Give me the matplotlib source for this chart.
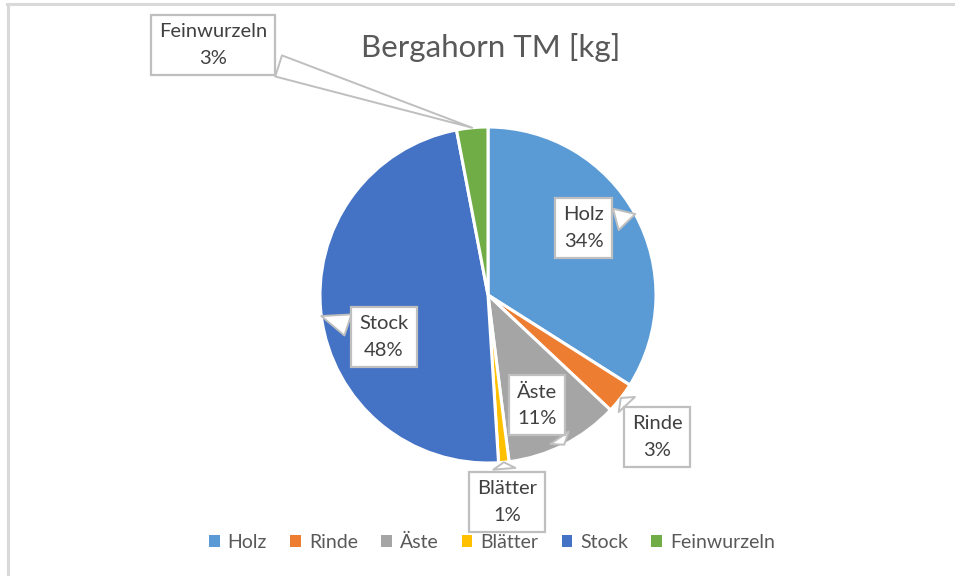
import numpy as np
import matplotlib
matplotlib.use("Agg")
import matplotlib.pyplot as plt
from matplotlib.patches import Patch
from matplotlib.lines import Line2D

# Daten
kategorien = ["Holz", "Rinde", "Äste", "Blätter", "Stock", "Feinwurzeln"]
anteile = [34, 3, 11, 1, 48, 3]
farben = ["#5B9BD5", "#ED7D31", "#A5A5A5", "#FFC000", "#4472C4", "#70AD47"]
titel = "Bergahorn TM [kg]"

# Lage der Beschriftungsboxen (in Radien, relativ zur Kreismitte)
label_pos = {
    "Holz": (0.571, 0.399),
    "Rinde": (1.006, -0.845),
    "Äste": (0.292, -0.655),
    "Blätter": (0.113, -1.232),
    "Stock": (-0.619, -0.25),
    "Feinwurzeln": (-1.637, 1.488),
}

plt.rcParams["font.family"] = ["Lato", "DejaVu Sans"]

W, H = 955, 576
fig = plt.figure(figsize=(W / 100, H / 100), dpi=100)
fig.patch.set_facecolor("white")

# Rahmen oben und links
grau = "#D9D9D9"
fig.add_artist(Line2D([7 / W, 1], [1 - 4 / H, 1 - 4 / H], color=grau, lw=2.2))
fig.add_artist(Line2D([8 / W, 8 / W], [0, 1 - 4 / H], color=grau, lw=2.2))

# Kreis: Mitte (488, 295), Radius 168 px
cx, cy, r = 488, 295, 168
ax = fig.add_axes([(cx - r) / W, (H - cy - r) / H, 2 * r / W, 2 * r / H])
wedges, _ = ax.pie(anteile, colors=farben, startangle=90, counterclock=False,
                   wedgeprops=dict(edgecolor="white", linewidth=2.2))
ax.set_xlim(-1, 1)
ax.set_ylim(-1, 1)
ax.set_aspect("equal")

summe = sum(anteile)
for w, name, wert in zip(wedges, kategorien, anteile):
    mitte = np.deg2rad((w.theta1 + w.theta2) / 2)
    ziel = (1.0 * np.cos(mitte), 1.0 * np.sin(mitte))
    ax.annotate(f"{name}\n{wert / summe * 100:.0f}%", xy=ziel,
                xytext=label_pos[name], textcoords="data",
                ha="center", va="center", fontsize=14.5, color="#404040",
                linespacing=1.65, annotation_clip=False, zorder=5,
                bbox=dict(boxstyle="square,pad=0.4", fc="white",
                          ec="#BFBFBF", lw=1.6),
                arrowprops=dict(arrowstyle="wedge,tail_width=1.1,shrink_factor=0.5",
                                fc="white", ec="#BFBFBF", lw=1.4, shrinkB=0))

fig.text(491 / W, 1 - 47 / H, titel, ha="center", va="center",
         fontsize=22.5, color="#595959")

handles = [Patch(facecolor=c) for c in farben]
fig.legend(handles, kategorien, loc="center", bbox_to_anchor=(492 / W, 1 - 542 / H),
           ncol=6, frameon=False, fontsize=14, labelcolor="#595959",
           handlelength=0.55, handleheight=0.55, handletextpad=0.4,
           columnspacing=1.2)

fig.savefig("out.png", dpi=100)
